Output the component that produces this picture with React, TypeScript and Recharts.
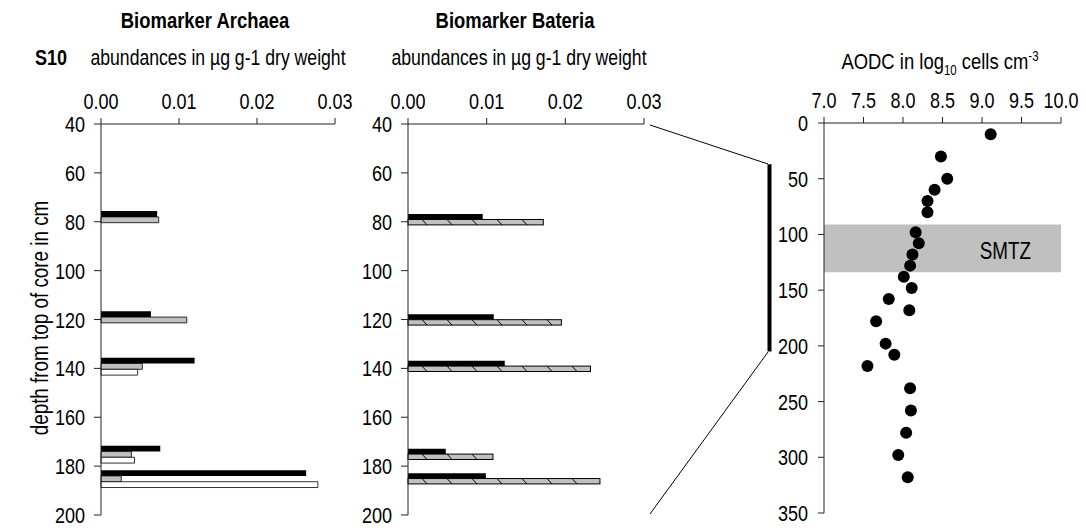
import React from "react";
import {
  BarChart,
  Bar,
  XAxis,
  YAxis,
  ScatterChart,
  Scatter,
  ReferenceArea,
  ReferenceLine,
} from "recharts";

const FONT = '"Liberation Sans", Arial, sans-serif';
// the figure uses a narrow face; squeeze the glyphs horizontally
const SQUEEZE = 0.82;

// sample depths (cm) of the lipid biomarker extracts
const depths = [79, 120, 139, 175, 185];

// archaeal biomarkers, µg g-1 dry weight
const archaeaBlack = [0.0072, 0.0064, 0.012, 0.0076, 0.0263];
const archaeaGrey = [0.0074, 0.011, 0.0053, 0.0039, 0.0026];
const archaeaWhite = [null, null, 0.0047, 0.0043, 0.0278];

// bacterial biomarkers, µg g-1 dry weight
const bacteriaBlack = [0.0095, 0.0109, 0.0123, 0.0048, 0.0099];
const bacteriaHatched = [0.0172, 0.0195, 0.0232, 0.0108, 0.0244];

// AODC counts
const aodcDepth = [10, 30, 50, 60, 70, 80, 98, 108, 118, 128, 138, 148, 158, 168, 178, 198, 208, 218, 238, 258, 278, 298, 318];
const aodcLog = [9.11, 8.48, 8.56, 8.4, 8.31, 8.31, 8.16, 8.2, 8.12, 8.09, 8.01, 8.11, 7.82, 8.08, 7.66, 7.78, 7.89, 7.55, 8.09, 8.1, 8.04, 7.94, 8.06];

const smtzTop = 91;
const smtzBottom = 134;

const abundanceTicks = [0, 0.01, 0.02, 0.03];
const depthTicks = [40, 60, 80, 100, 120, 140, 160, 180, 200];
const aodcTicks = [7, 7.5, 8, 8.5, 9, 9.5, 10];
const aodcDepthTicks = [0, 50, 100, 150, 200, 250, 300, 350];

const archaeaData = depths.map((depth, i) => ({
  depth,
  black: archaeaBlack[i],
  grey: archaeaGrey[i],
  white: archaeaWhite[i],
}));

const bacteriaData = depths.map((depth, i) => ({
  depth,
  black: bacteriaBlack[i],
  hatched: bacteriaHatched[i],
}));

const aodcData = aodcDepth.map((depth, i) => ({ depth, log: aodcLog[i] }));

const axisStroke = { stroke: "#222", strokeWidth: 1 };
const TICK_SIZE = 22;

function NarrowText({ x, y, size, anchor = "middle", weight, rotate, children }: any) {
  const t = `translate(${x},${y})${rotate ? ` rotate(${rotate})` : ""} scale(${SQUEEZE},1)`;
  return (
    <text transform={t} fontSize={size} textAnchor={anchor} fontWeight={weight} fontFamily={FONT} fill="#000">
      {children}
    </text>
  );
}

const topTick = (digits: number) => (p: any) => (
  <NarrowText x={p.x} y={p.y} size={TICK_SIZE}>
    {Number(p.payload.value).toFixed(digits)}
  </NarrowText>
);

const leftTick = (p: any) => (
  <NarrowText x={p.x} y={p.y + 8} size={TICK_SIZE} anchor="end">
    {p.payload.value}
  </NarrowText>
);

// grey bar with sparse downward diagonal strokes
const HatchedBar = (props: any) => {
  const { x, y, width, height } = props;
  if (!width || width <= 0) return null;
  const marks = [];
  for (let mx = x + 14; mx + 5 < x + width; mx += 25) {
    marks.push(
      <line key={mx} x1={mx} y1={y} x2={mx + 5} y2={y + height} stroke="#000" strokeWidth={1} />
    );
  }
  return (
    <g>
      <rect x={x} y={y} width={width} height={height} fill="#c0c0c0" stroke="#000" strokeWidth={1} />
      {marks}
    </g>
  );
};

const Dot = (props: any) => <circle cx={props.cx} cy={props.cy} r={6} fill="#000" />;

const smtzLabel = (p: any) => {
  const vb = p.viewBox;
  return (
    <NarrowText x={vb.x + vb.width - 30} y={vb.y + vb.height / 2 + 11} size={23} anchor="end">
      SMTZ
    </NarrowText>
  );
};

export default function App() {
  return (
    <div style={{ position: "absolute", left: 0, top: 0, width: 1086, height: 531, background: "#fff", fontFamily: FONT }}>
      <div style={{ position: "absolute", left: 0, top: 0 }}>
        <BarChart
          width={360}
          height={531}
          layout="vertical"
          data={archaeaData}
          margin={{ top: 84, right: 25, bottom: 16, left: 0 }}
          barGap={0}
        >
          <XAxis
            type="number"
            orientation="top"
            domain={[0, 0.03]}
            ticks={abundanceTicks}
            interval={0}
            height={40}
            tick={topTick(2)}
            axisLine={axisStroke}
            tickLine={axisStroke}
            tickSize={6}
            tickMargin={9}
          />
          <YAxis
            type="number"
            dataKey="depth"
            domain={[40, 200]}
            ticks={depthTicks}
            interval={0}
            width={101}
            tick={leftTick}
            axisLine={axisStroke}
            tickLine={axisStroke}
            tickSize={7}
            tickMargin={9}
          />
          <Bar dataKey="black" fill="#000" barSize={5.8} isAnimationActive={false} />
          <Bar dataKey="grey" fill="#c0c0c0" stroke="#000" strokeWidth={0.8} barSize={5.8} isAnimationActive={false} />
          <Bar dataKey="white" fill="#fff" stroke="#000" strokeWidth={0.8} barSize={5.8} isAnimationActive={false} />
        </BarChart>
      </div>

      <div style={{ position: "absolute", left: 340, top: 0 }}>
        <BarChart
          width={340}
          height={531}
          layout="vertical"
          data={bacteriaData}
          margin={{ top: 84, right: 36, bottom: 16, left: 0 }}
          barGap={0}
        >
          <XAxis
            type="number"
            orientation="top"
            domain={[0, 0.03]}
            ticks={abundanceTicks}
            interval={0}
            height={40}
            tick={topTick(2)}
            axisLine={axisStroke}
            tickLine={axisStroke}
            tickSize={6}
            tickMargin={9}
          />
          <YAxis
            type="number"
            dataKey="depth"
            domain={[40, 200]}
            ticks={depthTicks}
            interval={0}
            width={68}
            tick={leftTick}
            axisLine={axisStroke}
            tickLine={axisStroke}
            tickSize={7}
            tickMargin={9}
          />
          <Bar dataKey="black" fill="#000" barSize={5.4} isAnimationActive={false} />
          <Bar dataKey="hatched" shape={HatchedBar} barSize={5.4} isAnimationActive={false} />
        </BarChart>
      </div>

      <div style={{ position: "absolute", left: 730, top: 0 }}>
        <ScatterChart width={356} height={531} margin={{ top: 83, right: 25, bottom: 18, left: 0 }}>
          <XAxis
            type="number"
            dataKey="log"
            orientation="top"
            domain={[7, 10]}
            ticks={aodcTicks}
            interval={0}
            height={40}
            tick={topTick(1)}
            axisLine={axisStroke}
            tickLine={axisStroke}
            tickSize={6}
            tickMargin={9}
          />
          <YAxis
            type="number"
            dataKey="depth"
            reversed
            domain={[0, 350]}
            ticks={aodcDepthTicks}
            interval={0}
            width={94}
            tick={leftTick}
            axisLine={axisStroke}
            tickLine={axisStroke}
            tickSize={6}
            tickMargin={10}
          />
          <ReferenceArea
            y1={smtzTop}
            y2={smtzBottom}
            fill="#c0c0c0"
            fillOpacity={1}
            stroke="none"
            label={smtzLabel}
          />
          {/* depth span covered by the biomarker panels */}
          <ReferenceLine
            segment={[{ x: 6.31, y: 37 }, { x: 6.31, y: 205 }]}
            ifOverflow="visible"
            stroke="#000"
            strokeWidth={4}
          />
          <Scatter data={aodcData} shape={Dot} isAnimationActive={false} />
        </ScatterChart>
      </div>

      <svg width={1086} height={531} style={{ position: "absolute", left: 0, top: 0, pointerEvents: "none" }}>
        <NarrowText x={205} y={28} size={22.5} weight="bold">Biomarker Archaea</NarrowText>
        <NarrowText x={515} y={28} size={22.5} weight="bold">Biomarker Bateria</NarrowText>
        <NarrowText x={35} y={65} size={22} weight="bold" anchor="start">S10</NarrowText>
        <NarrowText x={218} y={65} size={21.5}>abundances in µg g-1 dry weight</NarrowText>
        <NarrowText x={519} y={65} size={21.5}>abundances in µg g-1 dry weight</NarrowText>
        <NarrowText x={940} y={69} size={22.5}>
          AODC in log<tspan fontSize={14} dy={6}>10</tspan>
          <tspan dy={-6}> cells cm</tspan>
          <tspan fontSize={14} dy={-8}>-3</tspan>
        </NarrowText>
        <NarrowText x={48} y={318} size={23} rotate={-90}>depth from top of core in cm</NarrowText>
        <line x1={650} y1={125} x2={768} y2={164} stroke="#000" strokeWidth={1} />
        <line x1={768} y1={352} x2={650} y2={514} stroke="#000" strokeWidth={1} />
      </svg>
    </div>
  );
}
